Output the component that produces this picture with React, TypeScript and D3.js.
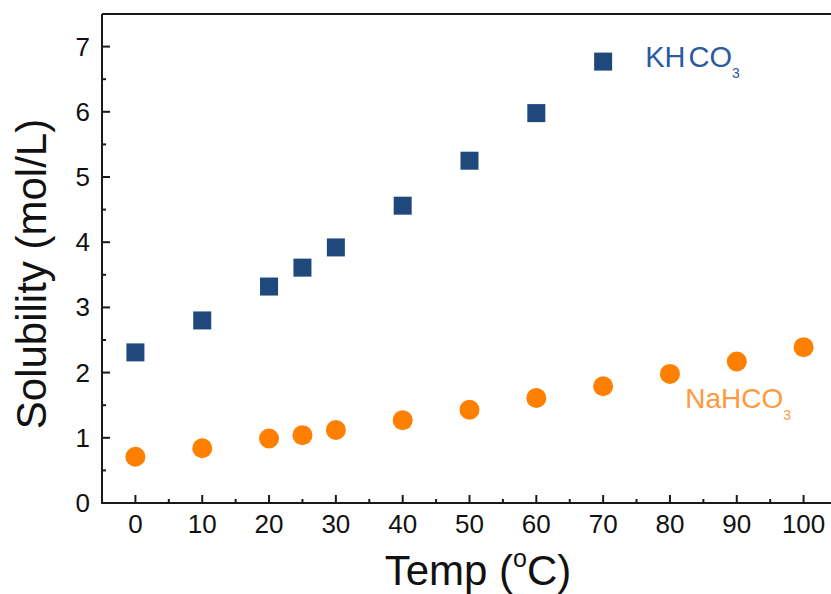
import React from "react";
import * as d3 from "d3";

const kTemps = [0, 10, 20, 25, 30, 40, 50, 60, 70];
const kValues = [2.31, 2.8, 3.32, 3.61, 3.92, 4.56, 5.25, 5.98, 6.77];
const naTemps = [0, 10, 20, 25, 30, 40, 50, 60, 70, 80, 90, 100];
const naValues = [0.71, 0.84, 0.99, 1.04, 1.12, 1.27, 1.43, 1.61, 1.79, 1.98, 2.17, 2.39];
const xTicks = [0, 10, 20, 30, 40, 50, 60, 70, 80, 90, 100];
const xMinor = [5, 15, 25, 35, 45, 55, 65, 75, 85, 95];
const yTicks = [0, 1, 2, 3, 4, 5, 6, 7];
const yMinor = [0.5, 1.5, 2.5, 3.5, 4.5, 5.5, 6.5];

const W = 831;
const H = 594;
const FONT = "'Liberation Sans', Arial, sans-serif";
const BLUE = "#1f497d";
const ORANGE = "#ff7f00";

export default function App() {
  const x = d3.scaleLinear().domain([-5, 105]).range([102, 837]);
  const y = d3.scaleLinear().domain([0, 7.5]).range([503, 14]);
  const axisColor = "#1a1a1a";
  const sq = 18;
  return (
    <div style={{ position: "absolute", left: 0, top: 0, width: W, height: H, overflow: "hidden", background: "#fff" }}>
      <svg width={W} height={H} style={{ display: "block" }} fontFamily={FONT}>
        <rect width={W} height={H} fill="#fff" />
        {/* frame */}
        <line x1={x(-5)} x2={x(105)} y1={y(7.5)} y2={y(7.5)} stroke={axisColor} strokeWidth={2} />
        <line x1={x(-5)} x2={x(-5)} y1={y(7.5)} y2={y(0) + 1} stroke={axisColor} strokeWidth={2} />
        <line x1={x(-5)} x2={x(105)} y1={y(0)} y2={y(0)} stroke={axisColor} strokeWidth={2} />
        {/* x ticks */}
        {xTicks.map((t) => (
          <g key={"xt" + t}>
            <line x1={x(t)} x2={x(t)} y1={y(0)} y2={y(0) - 8} stroke={axisColor} strokeWidth={2} />
            <text x={x(t)} y={533} textAnchor="middle" fontSize={26} fill="#111">{t}</text>
          </g>
        ))}
        {xMinor.map((t) => (
          <line key={"xm" + t} x1={x(t)} x2={x(t)} y1={y(0)} y2={y(0) - 4} stroke={axisColor} strokeWidth={2} />
        ))}
        {/* y ticks */}
        {yTicks.map((t) => (
          <g key={"yt" + t}>
            <line x1={x(-5)} x2={x(-5) + 8} y1={y(t)} y2={y(t)} stroke={axisColor} strokeWidth={2} />
            <text x={90} y={y(t) + 9} textAnchor="end" fontSize={26} fill="#111">{t}</text>
          </g>
        ))}
        {yMinor.map((t) => (
          <line key={"ym" + t} x1={x(-5)} x2={x(-5) + 4} y1={y(t)} y2={y(t)} stroke={axisColor} strokeWidth={2} />
        ))}
        {/* axis titles */}
        <text x={478} y={585} textAnchor="middle" fontSize={42} fill="#111">
          Temp (<tspan fontSize={25} dy={-18}>o</tspan><tspan dy={18}>C)</tspan>
        </text>
        <text transform={`translate(46,274) rotate(-90)`} textAnchor="middle" fontSize={42} fill="#111">
          Solubility (mol/L)
        </text>
        {/* KHCO3 squares */}
        {kTemps.map((t, i) => (
          <rect key={"k" + t} x={x(t) - sq / 2} y={y(kValues[i]) - sq / 2} width={sq} height={sq} fill={BLUE} />
        ))}
        {/* NaHCO3 circles */}
        {naTemps.map((t, i) => (
          <circle key={"n" + t} cx={x(t)} cy={y(naValues[i])} r={10} fill={ORANGE} />
        ))}
        {/* labels */}
        <text x={x(76.3)} y={y(6.69)} fontSize={29} fill="#2a5aa0">
          KH<tspan dx={3}>CO</tspan><tspan fontSize={14} dy={11}>3</tspan>
        </text>
        <text x={x(82.3)} y={y(1.46)} fontSize={28} fill="#ff9a3c">
          NaHCO<tspan fontSize={14} dy={12}>3</tspan>
        </text>
      </svg>
    </div>
  );
}
